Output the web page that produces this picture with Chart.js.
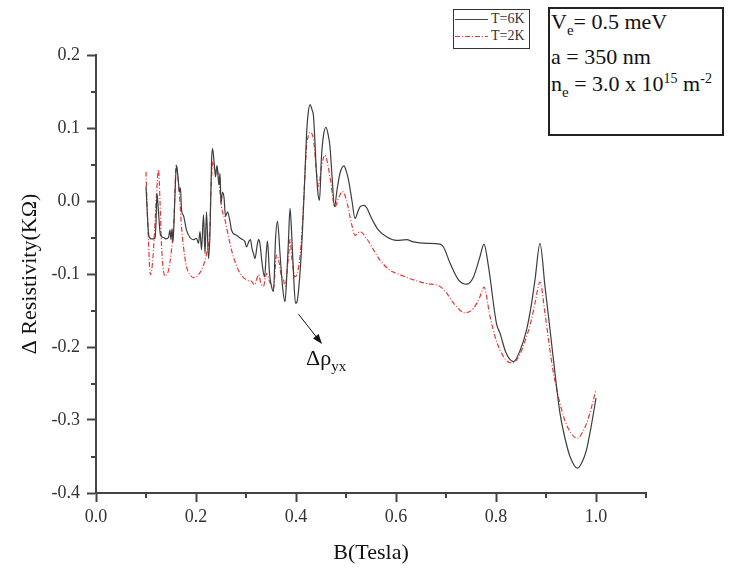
<!DOCTYPE html>
<html>
<head>
<meta charset="utf-8">
<script src="https://cdn.jsdelivr.net/npm/chart.js@4.4.0/dist/chart.umd.min.js"></script>
<style>
  html, body { margin: 0; padding: 0; background: #fff; }
  #wrap { position: relative; width: 736px; height: 568px; font-family: 'Liberation Serif', 'Times New Roman', serif; color: #111; }
  #chart { position: absolute; left: 0; top: 0; }
  .legend { position: absolute; left: 453px; top: 9px; width: 77px; height: 40px; box-sizing: border-box; border: 1.5px solid #333; background: #fff; }
  .legend .row { position: absolute; left: 0; width: 74px; height: 14px; font-size: 14px; line-height: 14px; color: #333; }
  .legend svg { position: absolute; left: 1px; top: 6px; }
  .legend span { position: absolute; left: 37px; top: 0; white-space: nowrap; }
  .params { position: absolute; left: 548px; top: 7px; width: 176px; height: 129px; box-sizing: border-box; border: 2px solid #222; background: #fff; }
  .params div { position: absolute; left: 1px; font-size: 22px; line-height: 22px; white-space: nowrap; }
  .lo { position: relative; top: 6px; font-size: 15px; }
  .hi { position: relative; top: -8px; font-size: 14px; }
  .drho { position: absolute; left: 306px; top: 347px; font-size: 22px; line-height: 22px; white-space: nowrap; }
</style>
</head>
<body>
<div id="wrap">
  <canvas id="chart" width="736" height="568"></canvas>

  <div class="legend">
    <div class="row" style="top: 2px;">
      <svg width="33" height="3"><line x1="0" y1="1.5" x2="33" y2="1.5" stroke="#444" stroke-width="1.2"/></svg>
      <span>T=6K</span>
    </div>
    <div class="row" style="top: 19px;">
      <svg width="33" height="3"><line x1="0" y1="1.5" x2="33" y2="1.5" stroke="#ee3535" stroke-width="1.2" stroke-dasharray="5 2 1 2"/></svg>
      <span>T=2K</span>
    </div>
  </div>

  <div class="params">
    <div style="top: 2px;">V<span class="lo">e</span>= 0.5 meV</div>
    <div style="top: 37px;">a = 350 nm</div>
    <div style="top: 64px;">n<span class="lo">e</span> = 3.0 x 10<span class="hi">15</span> m<span class="hi">-2</span></div>
  </div>

  <div class="drho">Δρ<span class="lo">yx</span></div>
</div>

<script>
// Magnetic field (Tesla) and Δ resistivity (kΩ)
const bT6 = [
  0.100, 0.105, 0.108, 0.113, 0.118, 0.120, 0.122, 0.124, 0.126, 0.129,
  0.135, 0.140, 0.145, 0.148, 0.150, 0.152, 0.154, 0.156, 0.158, 0.161,
  0.163, 0.165, 0.167, 0.169, 0.171, 0.175, 0.181, 0.188, 0.195, 0.201,
  0.205, 0.208, 0.211, 0.215, 0.218, 0.221, 0.225, 0.228, 0.231, 0.233,
  0.237, 0.239, 0.242, 0.246, 0.248, 0.250, 0.253, 0.256, 0.259, 0.263,
  0.268, 0.271, 0.281, 0.291, 0.298, 0.301, 0.306, 0.309, 0.312, 0.315,
  0.318, 0.322, 0.325, 0.327, 0.333, 0.337, 0.341, 0.343, 0.347, 0.351,
  0.355, 0.359, 0.363, 0.368, 0.373, 0.378, 0.381, 0.385, 0.388, 0.391,
  0.395, 0.399, 0.402, 0.408, 0.413, 0.418, 0.421, 0.424, 0.428, 0.432,
  0.435, 0.441, 0.444, 0.447, 0.451, 0.455, 0.460, 0.464, 0.468, 0.472,
  0.477, 0.482, 0.488, 0.496, 0.500, 0.505, 0.512, 0.518, 0.523, 0.528,
  0.536, 0.542, 0.548, 0.556, 0.565, 0.581, 0.601, 0.621, 0.635, 0.661,
  0.688, 0.695, 0.708, 0.725, 0.741, 0.755, 0.768, 0.776, 0.785, 0.801,
  0.808, 0.820, 0.835, 0.848, 0.861, 0.870, 0.878, 0.888, 0.898, 0.907,
  0.915, 0.928, 0.938, 0.948, 0.963, 0.972, 0.981, 0.990, 1.000
];
const rhoT6 = [
  0.020, -0.044, -0.051, -0.052, -0.051, -0.030, 0.010, -0.005, -0.025, -0.047,
  -0.050, -0.052, -0.050, -0.040, -0.053, -0.038, -0.056, -0.030, 0.010, 0.049,
  0.040, 0.025, 0.012, 0.018, -0.012, -0.020, -0.040, -0.050, -0.053, -0.051,
  -0.058, -0.042, -0.067, -0.019, -0.072, -0.015, -0.079, -0.044, 0.052, 0.072,
  0.047, 0.033, 0.049, 0.022, 0.038, -0.003, 0.012, 0.005, -0.021, -0.015,
  -0.028, -0.040, -0.047, -0.052, -0.056, -0.063, -0.055, -0.053, -0.065, -0.072,
  -0.079, -0.062, -0.053, -0.055, -0.090, -0.104, -0.067, -0.055, -0.099, -0.117,
  -0.124, -0.053, -0.028, -0.072, -0.117, -0.138, -0.110, -0.053, -0.010, -0.040,
  -0.099, -0.140, -0.138, -0.099, -0.040, 0.038, 0.090, 0.118, 0.132, 0.125,
  0.116, 0.038, 0.010, 0.001, 0.061, 0.090, 0.101, 0.092, 0.074, 0.035,
  -0.008, 0.015, 0.038, 0.048, 0.042, 0.029, 0.000, -0.024, -0.016, -0.008,
  -0.006, -0.010, -0.019, -0.030, -0.040, -0.049, -0.054, -0.053, -0.056, -0.058,
  -0.059, -0.063, -0.085, -0.108, -0.114, -0.104, -0.076, -0.059, -0.090, -0.168,
  -0.181, -0.208, -0.220, -0.205, -0.177, -0.145, -0.108, -0.058, -0.117, -0.170,
  -0.218, -0.291, -0.325, -0.350, -0.366, -0.358, -0.341, -0.310, -0.270
];

const bT2 = [
  0.100, 0.104, 0.109, 0.113, 0.118, 0.121, 0.125, 0.128, 0.131, 0.134,
  0.138, 0.142, 0.145, 0.151, 0.154, 0.156, 0.158, 0.160, 0.164, 0.168,
  0.171, 0.175, 0.181, 0.188, 0.195, 0.205, 0.215, 0.221, 0.227, 0.230,
  0.234, 0.238, 0.241, 0.245, 0.248, 0.251, 0.258, 0.265, 0.271, 0.278,
  0.285, 0.295, 0.305, 0.311, 0.317, 0.321, 0.325, 0.330, 0.335, 0.339,
  0.341, 0.347, 0.355, 0.361, 0.365, 0.370, 0.375, 0.378, 0.385, 0.388,
  0.392, 0.398, 0.403, 0.408, 0.413, 0.418, 0.421, 0.425, 0.428, 0.435,
  0.441, 0.445, 0.451, 0.458, 0.463, 0.468, 0.478, 0.485, 0.493, 0.501,
  0.511, 0.518, 0.528, 0.541, 0.555, 0.568, 0.588, 0.608, 0.635, 0.661,
  0.688, 0.701, 0.715, 0.738, 0.755, 0.768, 0.776, 0.788, 0.800, 0.808,
  0.820, 0.833, 0.848, 0.861, 0.870, 0.878, 0.888, 0.898, 0.907, 0.915,
  0.935, 0.950, 0.963, 0.972, 0.981, 0.990, 1.000
];
const rhoT2 = [
  0.040, -0.040, -0.101, -0.085, -0.030, 0.010, 0.043, 0.000, -0.060, -0.090,
  -0.103, -0.100, -0.095, -0.067, -0.045, -0.021, 0.015, 0.049, 0.030, -0.003,
  -0.035, -0.063, -0.090, -0.101, -0.105, -0.101, -0.088, -0.072, -0.044, 0.015,
  0.054, 0.042, 0.046, 0.033, 0.011, -0.008, -0.026, -0.049, -0.067, -0.083,
  -0.095, -0.105, -0.109, -0.110, -0.115, -0.108, -0.101, -0.113, -0.117, -0.104,
  -0.099, -0.110, -0.120, -0.074, -0.080, -0.100, -0.108, -0.117, -0.076, -0.053,
  -0.080, -0.104, -0.098, -0.076, -0.031, 0.038, 0.074, 0.090, 0.094, 0.084,
  0.038, 0.020, 0.047, 0.063, 0.052, 0.033, -0.008, 0.004, 0.013, 0.001,
  -0.031, -0.047, -0.042, -0.051, -0.067, -0.081, -0.095, -0.101, -0.108, -0.113,
  -0.117, -0.126, -0.140, -0.153, -0.147, -0.131, -0.118, -0.158, -0.190, -0.204,
  -0.218, -0.222, -0.210, -0.186, -0.165, -0.140, -0.111, -0.154, -0.200, -0.236,
  -0.295, -0.318, -0.325, -0.318, -0.305, -0.285, -0.258
];

// axis ticks
const xMajorTicks = [0, 0.2, 0.4, 0.6, 0.8, 1.0];
const xMinorTicks = [0.1, 0.3, 0.5, 0.7, 0.9, 1.1];
const yMajorTicks = [-0.4, -0.3, -0.2, -0.1, 0, 0.1, 0.2];
const yMinorTicks = [-0.35, -0.25, -0.15, -0.05, 0.05, 0.15];

// Δρyx arrow, in data coordinates
const arrowFrom = [0.405, -0.155];
const arrowTo = [0.452, -0.196];

const FONT = "'Liberation Serif', 'Times New Roman', serif";
const AXIS = '#444';

Chart.defaults.font.family = FONT;

const toPoints = (xs, ys) => xs.map((x, i) => ({ x: x, y: ys[i] }));

// short minor ticks and the annotation arrow
const extrasPlugin = {
    id: 'extras',
    afterDraw(chart) {
        const { ctx, scales: { x, y } } = chart;
        ctx.save();
        ctx.strokeStyle = AXIS;
        ctx.lineWidth = 2;
        ctx.beginPath();
        xMinorTicks.forEach(v => {
            const px = Math.round(x.getPixelForValue(v));
            ctx.moveTo(px, x.top);
            ctx.lineTo(px, x.top + 5);
        });
        yMinorTicks.forEach(v => {
            const py = Math.round(y.getPixelForValue(v));
            ctx.moveTo(y.right, py);
            ctx.lineTo(y.right - 5, py);
        });
        ctx.stroke();

        const x0 = x.getPixelForValue(arrowFrom[0]), y0 = y.getPixelForValue(arrowFrom[1]);
        const x1 = x.getPixelForValue(arrowTo[0]), y1 = y.getPixelForValue(arrowTo[1]);
        const ang = Math.atan2(y1 - y0, x1 - x0);
        ctx.strokeStyle = '#111';
        ctx.fillStyle = '#111';
        ctx.lineWidth = 1;
        ctx.beginPath();
        ctx.moveTo(x0, y0);
        ctx.lineTo(x1 - 6 * Math.cos(ang), y1 - 6 * Math.sin(ang));
        ctx.stroke();
        ctx.beginPath();
        ctx.moveTo(x1, y1);
        ctx.lineTo(x1 - 10 * Math.cos(ang) + 3.5 * Math.sin(ang), y1 - 10 * Math.sin(ang) - 3.5 * Math.cos(ang));
        ctx.lineTo(x1 - 10 * Math.cos(ang) - 3.5 * Math.sin(ang), y1 - 10 * Math.sin(ang) + 3.5 * Math.cos(ang));
        ctx.closePath();
        ctx.fill();
        ctx.restore();
    }
};

new Chart(document.getElementById('chart'), {
    type: 'line',
    data: {
        datasets: [
            {
                label: 'T=6K',
                data: toPoints(bT6, rhoT6),
                borderColor: '#3d3d3d',
                borderWidth: 1.2,
                pointRadius: 0,
                cubicInterpolationMode: 'monotone',
                fill: false
            },
            {
                label: 'T=2K',
                data: toPoints(bT2, rhoT2),
                borderColor: '#ee3535',
                borderWidth: 1.2,
                borderDash: [5, 2, 1, 2],
                pointRadius: 0,
                cubicInterpolationMode: 'monotone',
                fill: false
            }
        ]
    },
    options: {
        responsive: false,
        animation: false,
        events: [],
        layout: { padding: { top: 55, right: 90, left: 0, bottom: 0 } },
        plugins: {
            legend: { display: false },
            tooltip: { enabled: false }
        },
        scales: {
            x: {
                type: 'linear',
                min: 0,
                max: 1.1,
                afterBuildTicks: s => { s.ticks = xMajorTicks.map(v => ({ value: v })); },
                afterFit: s => { s.height = 75; },
                border: { display: true, color: AXIS, width: 2 },
                grid: { display: true, drawOnChartArea: false, drawTicks: true, tickLength: 9, tickColor: AXIS, tickWidth: 2 },
                ticks: {
                    color: '#333',
                    font: { family: FONT, size: 18 },
                    padding: 4,
                    maxRotation: 0,
                    autoSkip: false,
                    callback: v => Number(v).toFixed(1)
                },
                title: {
                    display: true,
                    text: 'B(Tesla)',
                    color: '#111',
                    font: { family: FONT, size: 22 },
                    padding: { top: 0, bottom: 2 }
                }
            },
            y: {
                type: 'linear',
                min: -0.4,
                max: 0.2,
                afterBuildTicks: s => { s.ticks = yMajorTicks.map(v => ({ value: v })); },
                afterFit: s => { s.width = 96; },
                border: { display: true, color: AXIS, width: 2 },
                grid: { display: true, drawOnChartArea: false, drawTicks: true, tickLength: 9, tickColor: AXIS, tickWidth: 2 },
                ticks: {
                    color: '#333',
                    font: { family: FONT, size: 18 },
                    padding: 7,
                    autoSkip: false,
                    callback: v => Number(v).toFixed(1)
                },
                title: {
                    display: true,
                    text: 'Δ Resistivity(KΩ)',
                    color: '#111',
                    font: { family: FONT, size: 22 },
                    padding: { top: 17, bottom: 0 }
                }
            }
        }
    },
    plugins: [extrasPlugin]
});
</script>
</body>
</html>
